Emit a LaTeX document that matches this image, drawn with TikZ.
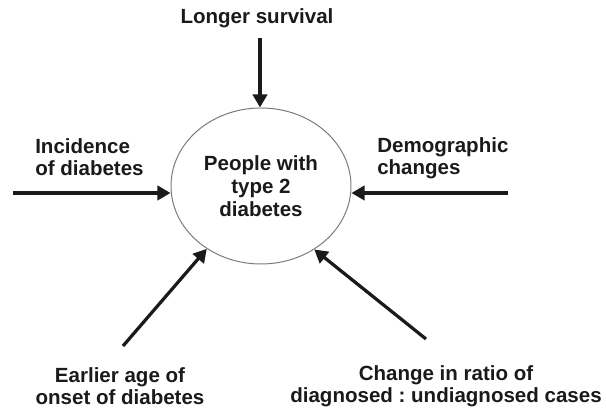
\documentclass[tikz,border=0pt]{standalone}
\usepackage{fontspec}
\setmainfont{Liberation Sans}
\frenchspacing
\usetikzlibrary{arrows.meta,shapes.geometric,positioning}
\definecolor{ink}{HTML}{1A1A1A}
\definecolor{rim}{HTML}{7A7A7A}
\tikzset{>={Triangle[length=.33cm,width=.36cm]},
  every node/.style={font=\bfseries\fontsize{14.6}{15.8}\selectfont,text=ink},
  flow/.style={->,draw=ink,line width=2.3pt},
  factor/.style={align=center,inner sep=0pt},
  hub/.style={ellipse,draw=rim,line width=.7pt,minimum width=4.5cm,
    minimum height=3.9cm,inner sep=0pt,align=center,
    font=\bfseries\fontsize{14.6}{16.3}\selectfont}}

\begin{document}
\begin{tikzpicture}
\useasboundingbox (0,0) rectangle (15.15,10.2);
\node[hub] (pop) at (6.525,5.55) {People with\\type 2\\diabetes};
\node[factor] (surv) at (6.425,9.75) {Longer survival};
\node[factor,align=left,anchor=west] (inc) at (0.875,6.275) {Incidence\\of diabetes};
\node[factor,align=left,anchor=west] (demo) at (9.425,6.25) {Demographic\\changes};
\node[factor] (onset) at (3.0,0.55) {Earlier age of\\onset of diabetes};
\node[factor] (ratio) at (11.15,0.55) {Change in ratio of\\diagnosed : undiagnosed cases};
\coordinate (survS) at (6.5,9.25);
\coordinate (incS) at (0.325,5.375);
\coordinate (demoS) at (12.7,5.375);
\coordinate (onsetS) at (3.075,1.55);
\coordinate (ratioS) at (10.65,1.725);
\draw[flow] (survS) -- (survS |- pop.north);
\draw[flow] (incS) -- (incS -| pop.west);
\draw[flow] (demoS) -- (demoS -| pop.east);
\draw[flow] (onsetS) -- (pop);
\draw[flow] (ratioS) -- (pop.-50);
\end{tikzpicture}
\end{document}
